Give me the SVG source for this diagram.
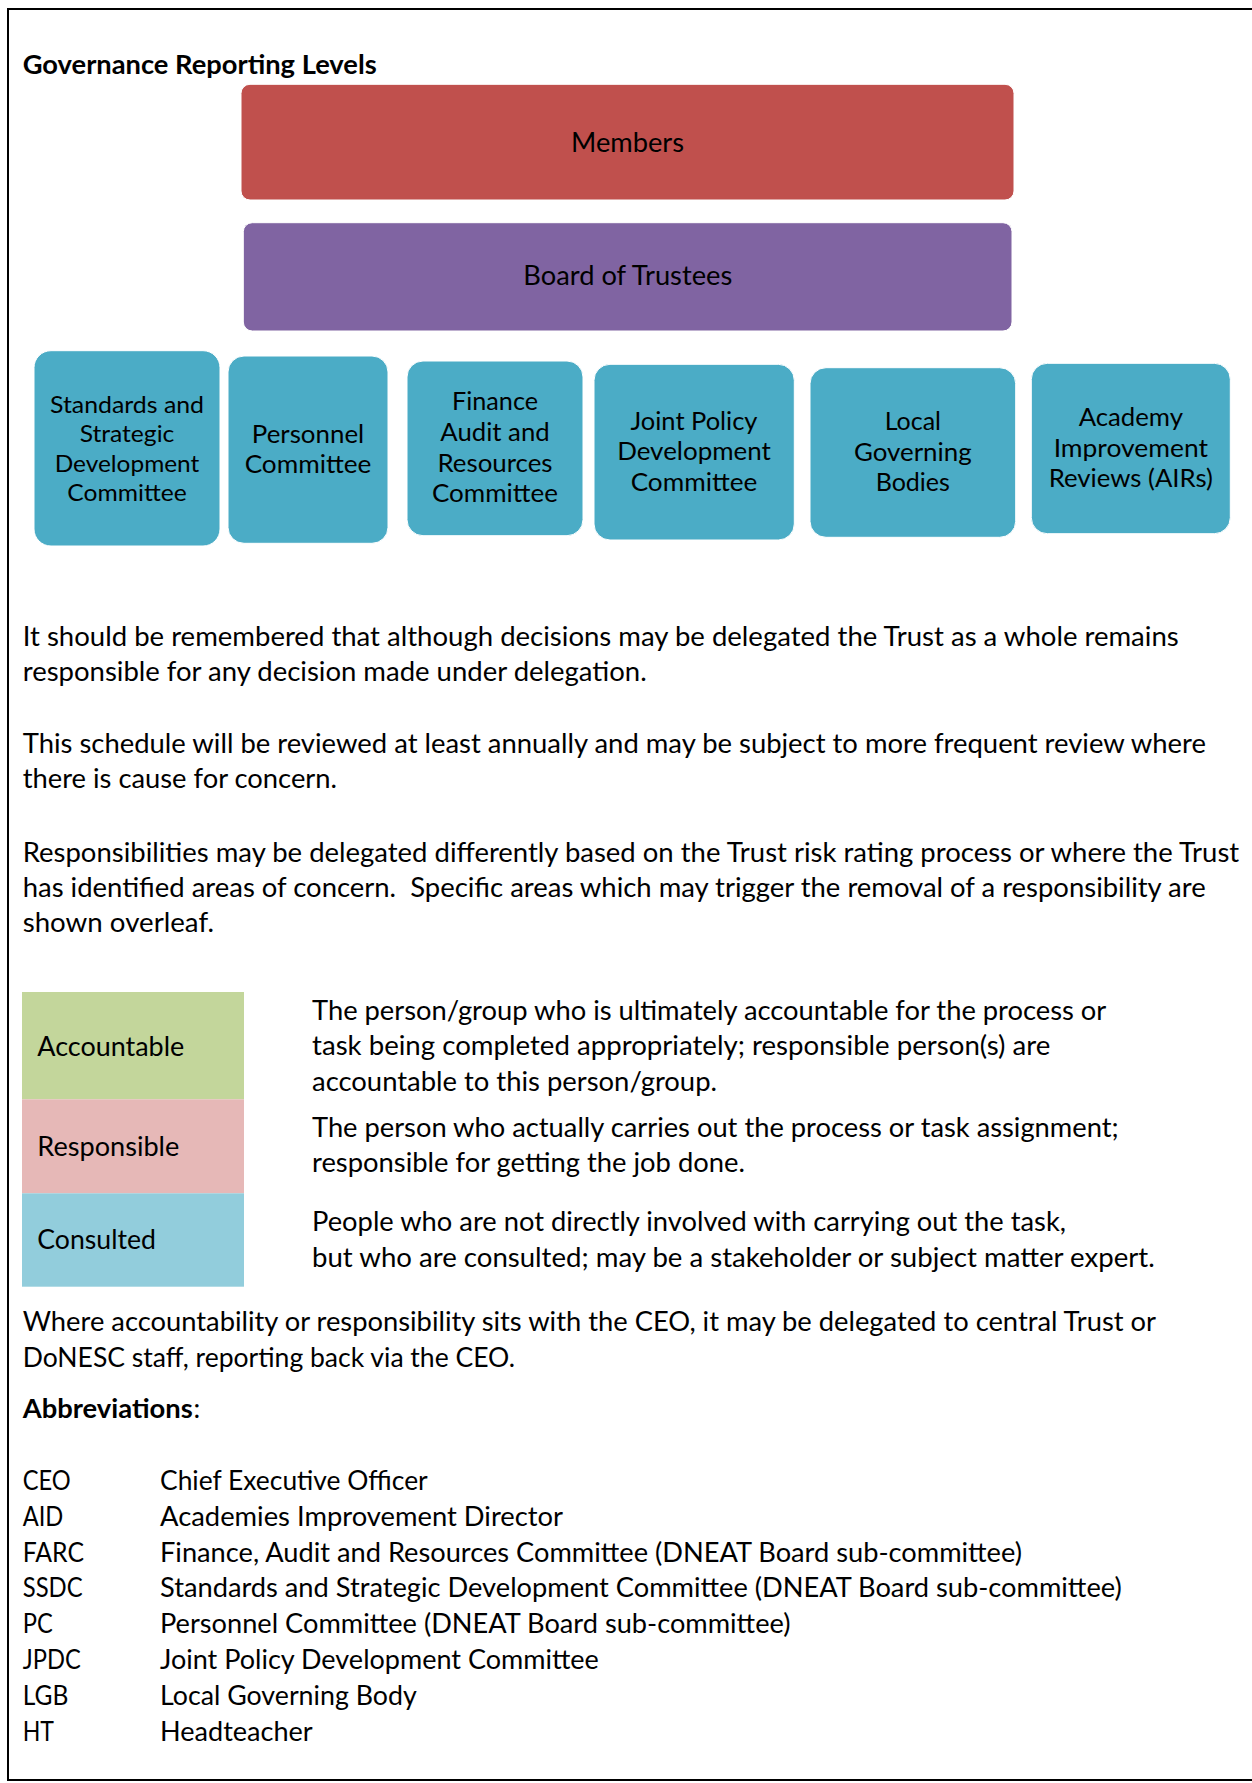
<svg xmlns="http://www.w3.org/2000/svg" width="1252" height="1783" viewBox="0 0 1252 1783">
<style>
text{font-family:Lato,"Noto Sans","Liberation Sans",sans-serif;fill:#000;}
.t{font-size:26.8px;}
.b{font-size:26.8px;font-weight:bold;}
.c{font-size:25.4px;text-anchor:middle;}
.cs{font-size:24px;text-anchor:middle;}
.m{font-size:26.8px;text-anchor:middle;}
.com{fill:#4BACC6;stroke:#FFFFFF;stroke-width:1;}
</style>
<rect x="8" y="9" width="1250" height="1771" fill="#FFFFFF" stroke="#000000" stroke-width="2"/>
<text class="b" x="22.7" y="74" textLength="354" lengthAdjust="spacingAndGlyphs">Governance Reporting Levels</text>
<g id="members">
<rect x="241" y="84.3" width="773" height="115.7" rx="9" fill="#C0504D" stroke="#FFFFFF" stroke-width="1"/>
<text class="m" x="627.5" y="151.7" textLength="113" lengthAdjust="spacingAndGlyphs">Members</text>
</g>
<g id="board">
<rect x="243.3" y="222.7" width="768.7" height="108.3" rx="9" fill="#8064A2" stroke="#FFFFFF" stroke-width="1"/>
<text class="m" x="627.8" y="285" textLength="209" lengthAdjust="spacingAndGlyphs">Board of Trustees</text>
</g>
<g id="ssdc">
<rect class="com" x="34" y="350.7" width="186" height="195.3" rx="17"/>
<text class="cs" x="127" y="412.5" textLength="154" lengthAdjust="spacingAndGlyphs">Standards and</text>
<text class="cs" x="127" y="442" textLength="94.7" lengthAdjust="spacingAndGlyphs">Strategic</text>
<text class="cs" x="127" y="471.5" textLength="144.7" lengthAdjust="spacingAndGlyphs">Development</text>
<text class="cs" x="127" y="501" textLength="119.3" lengthAdjust="spacingAndGlyphs">Committee</text>
</g>
<g id="personnel">
<rect class="com" x="228" y="356" width="160" height="187.3" rx="16"/>
<text class="c" x="308" y="443.3" textLength="112.3" lengthAdjust="spacingAndGlyphs">Personnel</text>
<text class="c" x="308" y="472.7" textLength="126.7" lengthAdjust="spacingAndGlyphs">Committee</text>
</g>
<g id="farc">
<rect class="com" x="407" y="361" width="176" height="174.7" rx="16"/>
<text class="c" x="495" y="410" textLength="86" lengthAdjust="spacingAndGlyphs">Finance</text>
<text class="c" x="495" y="440.7" textLength="109.3" lengthAdjust="spacingAndGlyphs">Audit and</text>
<text class="c" x="495" y="471.7" textLength="115" lengthAdjust="spacingAndGlyphs">Resources</text>
<text class="c" x="495" y="501.7" textLength="126" lengthAdjust="spacingAndGlyphs">Committee</text>
</g>
<g id="jpdc">
<rect class="com" x="594" y="364.3" width="200.3" height="175.7" rx="16"/>
<text class="c" x="694" y="430" textLength="127" lengthAdjust="spacingAndGlyphs">Joint Policy</text>
<text class="c" x="694" y="460" textLength="153.7" lengthAdjust="spacingAndGlyphs">Development</text>
<text class="c" x="694" y="491" textLength="126.7" lengthAdjust="spacingAndGlyphs">Committee</text>
</g>
<g id="lgb">
<rect class="com" x="810" y="367.7" width="205.7" height="169.6" rx="16"/>
<text class="c" x="912.8" y="430" textLength="56.3" lengthAdjust="spacingAndGlyphs">Local</text>
<text class="c" x="912.8" y="461" textLength="117.7" lengthAdjust="spacingAndGlyphs">Governing</text>
<text class="c" x="912.8" y="491" textLength="74.3" lengthAdjust="spacingAndGlyphs">Bodies</text>
</g>
<g id="airs">
<rect class="com" x="1031.3" y="363.3" width="199" height="170.4" rx="16"/>
<text class="c" x="1130.8" y="426" textLength="104.3" lengthAdjust="spacingAndGlyphs">Academy</text>
<text class="c" x="1130.8" y="456.7" textLength="154.3" lengthAdjust="spacingAndGlyphs">Improvement</text>
<text class="c" x="1130.8" y="487.3" textLength="164.3" lengthAdjust="spacingAndGlyphs">Reviews (AIRs)</text>
</g>
<g id="connectors"></g>
<g id="paragraphs">
<text class="t" x="22.7" y="645.5" textLength="1156" lengthAdjust="spacingAndGlyphs">It should be remembered that although decisions may be delegated the Trust as a whole remains</text>
<text class="t" x="22.7" y="680.5" textLength="624" lengthAdjust="spacingAndGlyphs">responsible for any decision made under delegation.</text>
<text class="t" x="22.7" y="753" textLength="1183.3" lengthAdjust="spacingAndGlyphs">This schedule will be reviewed at least annually and may be subject to more frequent review where</text>
<text class="t" x="22.7" y="788" textLength="314.3" lengthAdjust="spacingAndGlyphs">there is cause for concern.</text>
<text class="t" x="22.7" y="861.5" textLength="1216.5" lengthAdjust="spacingAndGlyphs">Responsibilities may be delegated differently based on the Trust risk rating process or where the Trust</text>
<text class="t" x="22.7" y="896.5" textLength="1183" lengthAdjust="spacingAndGlyphs">has identified areas of concern.&#160; Specific areas which may trigger the removal of a responsibility are</text>
<text class="t" x="22.7" y="931.5" textLength="191.3" lengthAdjust="spacingAndGlyphs">shown overleaf.</text>
</g>
<g id="legend">
<rect x="22" y="992" width="222" height="107.3" fill="#C3D69B"/>
<rect x="22" y="1099.3" width="222" height="94" fill="#E6B8B7"/>
<rect x="22" y="1193.3" width="222" height="93.4" fill="#92CDDC"/>
<text class="t" x="37.3" y="1056" textLength="147" lengthAdjust="spacingAndGlyphs">Accountable</text>
<text class="t" x="37.3" y="1156" textLength="142" lengthAdjust="spacingAndGlyphs">Responsible</text>
<text class="t" x="37.3" y="1249.3" textLength="118.7" lengthAdjust="spacingAndGlyphs">Consulted</text>
<text class="t" x="312" y="1020" textLength="794.3" lengthAdjust="spacingAndGlyphs">The person/group who is ultimately accountable for the process or</text>
<text class="t" x="312" y="1055" textLength="738.3" lengthAdjust="spacingAndGlyphs">task being completed appropriately; responsible person(s) are</text>
<text class="t" x="312" y="1090.5" textLength="405" lengthAdjust="spacingAndGlyphs">accountable to this person/group.</text>
<text class="t" x="312" y="1136.7" textLength="806.7" lengthAdjust="spacingAndGlyphs">The person who actually carries out the process or task assignment;</text>
<text class="t" x="312" y="1171.5" textLength="433" lengthAdjust="spacingAndGlyphs">responsible for getting the job done.</text>
<text class="t" x="312" y="1231" textLength="754" lengthAdjust="spacingAndGlyphs">People who are not directly involved with carrying out the task,</text>
<text class="t" x="312" y="1267" textLength="842.7" lengthAdjust="spacingAndGlyphs">but who are consulted; may be a stakeholder or subject matter expert.</text>
</g>
<g id="notes">
<text class="t" x="22.7" y="1331" textLength="1133.3" lengthAdjust="spacingAndGlyphs">Where accountability or responsibility sits with the CEO, it may be delegated to central Trust or</text>
<text class="t" x="22.7" y="1366.7" textLength="492.3" lengthAdjust="spacingAndGlyphs">DoNESC staff, reporting back via the CEO.</text>
<text class="b" x="22.7" y="1418" textLength="170" lengthAdjust="spacingAndGlyphs">Abbreviations</text>
<text class="t" x="193.5" y="1418">:</text>
</g>
<g id="abbreviations">
<text class="t" x="22.7" y="1490" textLength="48" lengthAdjust="spacingAndGlyphs">CEO</text>
<text class="t" x="160" y="1490" textLength="267.7" lengthAdjust="spacingAndGlyphs">Chief Executive Officer</text>
<text class="t" x="22.7" y="1525.8" textLength="40.6" lengthAdjust="spacingAndGlyphs">AID</text>
<text class="t" x="160" y="1525.8" textLength="403" lengthAdjust="spacingAndGlyphs">Academies Improvement Director</text>
<text class="t" x="22.7" y="1561.6" textLength="61.3" lengthAdjust="spacingAndGlyphs">FARC</text>
<text class="t" x="160" y="1561.6" textLength="862" lengthAdjust="spacingAndGlyphs">Finance, Audit and Resources Committee (DNEAT Board sub-committee)</text>
<text class="t" x="22.7" y="1597.4" textLength="60" lengthAdjust="spacingAndGlyphs">SSDC</text>
<text class="t" x="160" y="1597.4" textLength="961.8" lengthAdjust="spacingAndGlyphs">Standards and Strategic Development Committee (DNEAT Board sub-committee)</text>
<text class="t" x="22.7" y="1633.2" textLength="30" lengthAdjust="spacingAndGlyphs">PC</text>
<text class="t" x="160" y="1633.2" textLength="630.5" lengthAdjust="spacingAndGlyphs">Personnel Committee (DNEAT Board sub-committee)</text>
<text class="t" x="22.7" y="1669" textLength="58" lengthAdjust="spacingAndGlyphs">JPDC</text>
<text class="t" x="160" y="1669" textLength="438.9" lengthAdjust="spacingAndGlyphs">Joint Policy Development Committee</text>
<text class="t" x="22.7" y="1704.8" textLength="45.6" lengthAdjust="spacingAndGlyphs">LGB</text>
<text class="t" x="160" y="1704.8" textLength="256.7" lengthAdjust="spacingAndGlyphs">Local Governing Body</text>
<text class="t" x="22.7" y="1740.5" textLength="31.3" lengthAdjust="spacingAndGlyphs">HT</text>
<text class="t" x="160" y="1740.5" textLength="152.7" lengthAdjust="spacingAndGlyphs">Headteacher</text>
</g>
</svg>
